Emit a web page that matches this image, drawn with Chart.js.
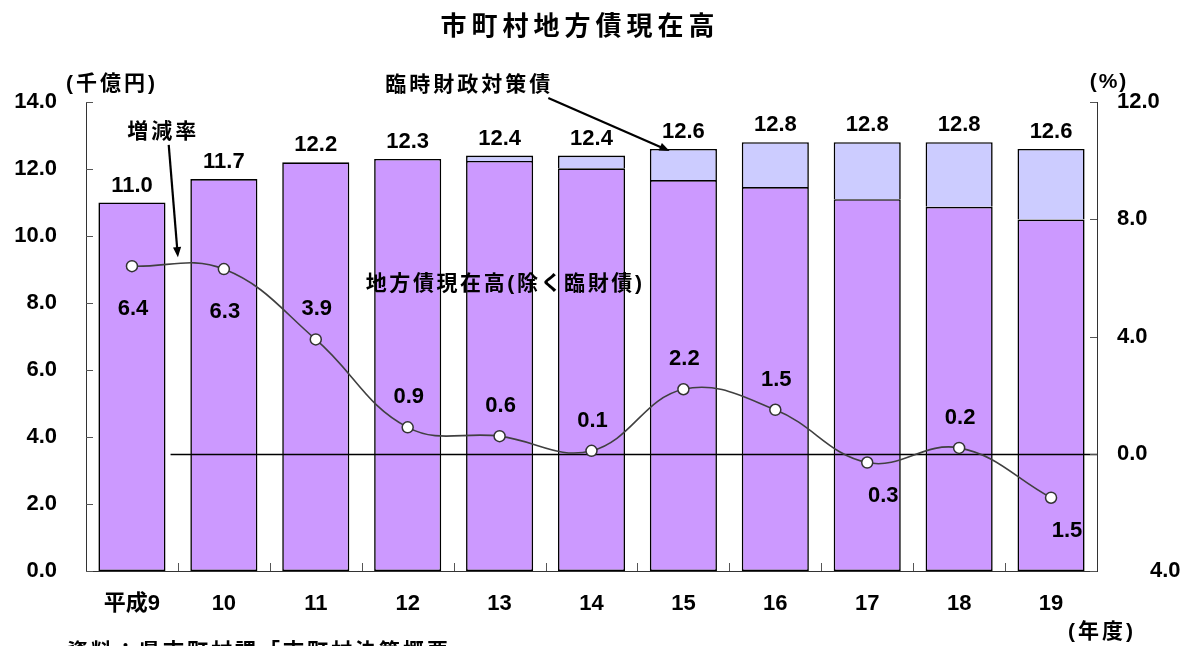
<!DOCTYPE html>
<html lang="ja">
<head>
<meta charset="utf-8">
<title>市町村地方債現在高</title>
<script src="https://cdn.jsdelivr.net/npm/chart.js@4.4.1/dist/chart.umd.min.js"></script>
<style>
  html, body { margin: 0; padding: 0; background: #fff; }
  #wrap { width: 1193px; height: 646px; position: relative; overflow: hidden; }
</style>
</head>
<body>
<div id="wrap"><canvas id="chart" width="1193" height="646"></canvas></div>
<script>
/* 市町村地方債現在高 — stacked bars (千億円) + growth rate line (%) */
const years       = ["平成9","10","11","12","13","14","15","16","17","18","19"];
const totals      = [11.0, 11.7, 12.2, 12.3, 12.4, 12.4, 12.6, 12.8, 12.8, 12.8, 12.6];
const baseDebt    = [11.0, 11.7, 12.2, 12.3, 12.24, 12.02, 11.67, 11.46, 11.10, 10.87, 10.49];
const rinzaiDebt  = [0, 0, 0, 0, 0.16, 0.38, 0.93, 1.34, 1.70, 1.93, 2.11];
const growthRate  = [6.4, 6.3, 3.9, 0.9, 0.6, 0.1, 2.2, 1.5, -0.3, 0.2, -1.5];
const leftTicks   = [0, 2, 4, 6, 8, 10, 12, 14];
const rightTicks  = [-4, 0, 4, 8, 12];
// which rate labels sit under their point
const rateBelow   = [true, true, false, false, false, false, false, false, true, false, true];

const FONT = "'Liberation Sans', Arial, 'Noto Sans CJK JP', sans-serif";
const fmt = (v) => Math.abs(v).toFixed(1);

function arrow(ctx, x1, y1, x2, y2) {
  const ang = Math.atan2(y2 - y1, x2 - x1), h = 11;
  ctx.save();
  ctx.strokeStyle = "#000"; ctx.fillStyle = "#000"; ctx.lineWidth = 2.2;
  ctx.beginPath(); ctx.moveTo(x1, y1);
  ctx.lineTo(x2 - Math.cos(ang) * h * 0.8, y2 - Math.sin(ang) * h * 0.8); ctx.stroke();
  ctx.beginPath(); ctx.moveTo(x2, y2);
  ctx.lineTo(x2 - h * Math.cos(ang - 0.38), y2 - h * Math.sin(ang - 0.38));
  ctx.lineTo(x2 - h * Math.cos(ang + 0.38), y2 - h * Math.sin(ang + 0.38));
  ctx.closePath(); ctx.fill();
  ctx.restore();
}

function text(ctx, s, x, y, size, align, spacing) {
  ctx.save();
  ctx.font = `bold ${size}px ${FONT}`;
  ctx.fillStyle = "#000";
  ctx.textAlign = align || "center";
  ctx.textBaseline = "middle";
  ctx.letterSpacing = (spacing || 0) + "px";
  ctx.fillText(s, x, y);
  ctx.restore();
}

const deco = {
  id: "deco",
  beforeDatasetDraw(chart, args) {
    if (args.meta.type !== "line") return;
    // 0% reference line, drawn over the bars
    const { ctx, scales: { x, y1 }, chartArea: a } = chart;
    const yy = Math.round(y1.getPixelForValue(0)) + 0.5;
    ctx.save(); ctx.strokeStyle = "#000"; ctx.lineWidth = 1.3;
    ctx.beginPath(); ctx.moveTo(x.getPixelForValue(0.42), yy); ctx.lineTo(a.right, yy); ctx.stroke();
    ctx.restore();
  },
  afterDatasetsDraw(chart) {
    const { ctx, scales: { x, y, y1 }, chartArea: a } = chart;

    // inward tick marks
    ctx.save(); ctx.strokeStyle = "#555"; ctx.lineWidth = 1;
    ctx.beginPath();
    leftTicks.forEach((v) => { const p = Math.round(y.getPixelForValue(v)) + 0.5; ctx.moveTo(a.left, p); ctx.lineTo(a.left + 7, p); });
    rightTicks.forEach((v) => { const p = Math.round(y1.getPixelForValue(v)) + 0.5; ctx.moveTo(a.right - 7, p); ctx.lineTo(a.right, p); });
    for (let i = 1; i < years.length; i++) {
      const p = Math.round(x.getPixelForValue(i - 0.5)) + 0.5;
      ctx.moveTo(p, a.bottom); ctx.lineTo(p, a.bottom - 8);
    }
    ctx.stroke(); ctx.restore();

    // bar totals
    totals.forEach((t, i) => {
      text(ctx, t.toFixed(1), x.getPixelForValue(i), y.getPixelForValue(baseDebt[i] + rinzaiDebt[i]) - 17, 22);
    });

    // growth-rate labels (negative sign rendered as blank, as in the source)
    const meta = chart.getDatasetMeta(2);
    ctx.save(); ctx.font = `bold 22px ${FONT}`;
    growthRate.forEach((v, i) => {
      const pt = meta.data[i];
      const s = fmt(v);
      let dx = 0;
      if (v < 0) dx = (ctx.measureText("△" + s).width - ctx.measureText(s).width) / 2 + 4;
      text(ctx, s, pt.x + dx + 1, pt.y + (rateBelow[i] ? (i < 2 ? 43 : 33) : -30), 22);
    });
    ctx.restore();

    // title and axis units
    text(ctx, "市町村地方債現在高", 580, 28, 26, "center", 5);
    text(ctx, "(千億円)", 112, 84, 21, "center", 3);
    text(ctx, "(%)", 1109, 82, 21, "center", 2);
    text(ctx, "(年度)", 1102, 632, 21, "center", 3);
    text(ctx, "資料：県市町村課「市町村決算概要」", 67, 652, 21, "left", 3);

    // series annotations
    text(ctx, "増減率", x.getPixelForValue(0.34), y.getPixelForValue(13.1), 21, "center", 3);
    arrow(ctx, x.getPixelForValue(0.4), y.getPixelForValue(12.72), x.getPixelForValue(0.5), y1.getPixelForValue(6.7));
    text(ctx, "臨時財政対策債", x.getPixelForValue(3.67), 85, 21, "center", 3);
    arrow(ctx, x.getPixelForValue(4.53), y.getPixelForValue(14.12), x.getPixelForValue(5.85), y.getPixelForValue(12.54));
    text(ctx, "地方債現在高(除く臨財債)", x.getPixelForValue(4.06), y.getPixelForValue(8.55), 21, "center", 2.6);
  }
};

new Chart(document.getElementById("chart"), {
  data: {
    labels: years,
    datasets: [
      { type: "bar", label: "地方債現在高(除く臨財債)", data: baseDebt, yAxisID: "y", order: 1,
        backgroundColor: "#CC99FF", borderColor: "#000", borderWidth: 1.6, borderSkipped: false,
        barPercentage: 0.73, categoryPercentage: 1 },
      { type: "bar", label: "臨時財政対策債", data: rinzaiDebt.map((v) => v || null), yAxisID: "y", order: 2,
        backgroundColor: "#CCCCFF", borderColor: "#000",
        borderWidth: { top: 1.6, left: 1.6, right: 1.6, bottom: 0 }, borderSkipped: false,
        barPercentage: 0.73, categoryPercentage: 1 },
      { type: "line", label: "増減率", data: growthRate, yAxisID: "y1", order: 0,
        borderColor: "#404040", borderWidth: 1.6, tension: 0.4, fill: false,
        pointRadius: 5.5, pointBackgroundColor: "#fff", pointBorderColor: "#333", pointBorderWidth: 1.5 },
    ],
  },
  options: {
    responsive: false,
    animation: false,
    layout: { padding: { top: 102, left: 0, right: 0, bottom: 0 } },
    plugins: { legend: { display: false }, tooltip: { enabled: false }, title: { display: false } },
    scales: {
      x: {
        stacked: true,
        grid: { display: false, drawTicks: false },
        border: { display: true, color: "#333", width: 1 },
        ticks: { color: "#000", font: { family: FONT, size: 22, weight: "bold" }, padding: 20, maxRotation: 0 },
        afterFit: (s) => { s.height = 75; },
      },
      y: {
        stacked: true, position: "left", min: 0, max: 14,
        afterBuildTicks: (s) => { s.ticks = leftTicks.map((v) => ({ value: v })); },
        grid: { display: false, drawTicks: false },
        border: { display: true, color: "#333", width: 1 },
        ticks: { color: "#000", font: { family: FONT, size: 22, weight: "bold" }, padding: 29, callback: (v) => v.toFixed(1) },
        afterFit: (s) => { s.width = 86; },
      },
      y1: {
        stacked: false, position: "right", min: -4, max: 12,
        afterBuildTicks: (s) => { s.ticks = rightTicks.map((v) => ({ value: v })); },
        grid: { display: false, drawTicks: false },
        border: { display: true, color: "#333", width: 1 },
        ticks: { color: "#000", font: { family: FONT, size: 22, weight: "bold" }, padding: 20,
          callback: (v) => (v < 0 ? "\u3000\u2002" : "") + fmt(v) },
        afterFit: (s) => { s.width = 96; },
      },
    },
  },
  plugins: [deco],
});
</script>
</body>
</html>
